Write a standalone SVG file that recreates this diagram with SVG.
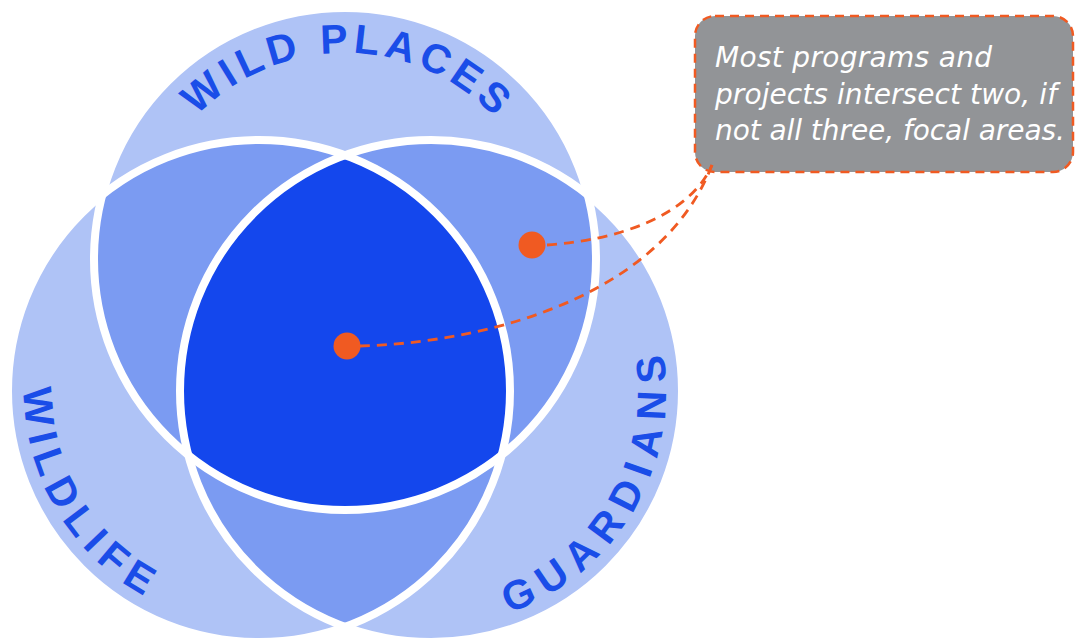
<svg xmlns="http://www.w3.org/2000/svg" width="1075" height="639" viewBox="0 0 1075 639">
<style>
.light{fill:#afc3f6}
.mid{fill:#7b9bf2}
.dark{fill:#1447ed}
.ring{fill:none;stroke:#ffffff;stroke-width:8}
.label{font-family:"Liberation Sans",Arial,sans-serif;font-weight:700;font-size:41px;fill:#1a4de8}
.note{font-family:"DejaVu Sans","Open Sans",sans-serif;font-style:italic;font-size:28px;fill:#ffffff}
.lead{fill:none;stroke:#f05a22;stroke-width:2.8;stroke-dasharray:10 7}
.dot{fill:#f05a22}
.box{fill:#929497;stroke:#f05a22;stroke-width:2.5;stroke-dasharray:9 6}
</style>
<defs>
<clipPath id="clipT"><circle cx="345" cy="259" r="251"/></clipPath>
<clipPath id="clipL"><circle cx="259" cy="391" r="251"/></clipPath>
<clipPath id="clipR"><circle cx="431" cy="391" r="251"/></clipPath>
<path id="arcTop" d="M 139 259 A 206 206 0 0 1 551 259"/>
<path id="arcLeft" d="M 107.2 211.6 A 235 235 0 0 0 340.5 611.4"/>
<path id="arcRight" d="M 349.1 611.3 A 235 235 0 0 0 583.3 212"/>
</defs>
<rect width="1075" height="639" fill="#ffffff"/>
<g id="circle-wild-places">
<circle class="light" cx="345" cy="259" r="251"/>
<text class="label" letter-spacing="5"><textPath href="#arcTop" startOffset="50.5%" text-anchor="middle">WILD PLACES</textPath></text>
</g>
<g id="circle-wildlife">
<circle class="light" cx="259" cy="391" r="251"/>
<text class="label" letter-spacing="8.3"><textPath href="#arcLeft" startOffset="50.5%" text-anchor="middle">WILDLIFE</textPath></text>
</g>
<g id="circle-guardians">
<circle class="light" cx="431" cy="391" r="251"/>
<text class="label" letter-spacing="9.8"><textPath href="#arcRight" startOffset="50.5%" text-anchor="middle">GUARDIANS</textPath></text>
</g>
<g id="overlaps">
<circle class="mid" cx="345" cy="259" r="251" clip-path="url(#clipL)"/>
<circle class="mid" cx="345" cy="259" r="251" clip-path="url(#clipR)"/>
<circle class="mid" cx="259" cy="391" r="251" clip-path="url(#clipR)"/>
<g clip-path="url(#clipR)"><circle class="dark" cx="345" cy="259" r="251" clip-path="url(#clipL)"/></g>
</g>
<g id="outlines">
<circle class="ring" cx="345" cy="259" r="251"/>
<circle class="ring" cx="259" cy="391" r="251"/>
<circle class="ring" cx="431" cy="391" r="251"/>
</g>
<g id="callout">
<rect class="box" x="695" y="16" width="378" height="156" rx="20"/>
<text class="note" x="715" y="67" textLength="277" lengthAdjust="spacing">Most programs and</text>
<text class="note" x="715" y="104" textLength="342" lengthAdjust="spacing">projects intersect two, if</text>
<text class="note" x="715" y="140" textLength="350" lengthAdjust="spacing">not all three, focal areas.</text>
</g>
<g id="connectors">
<path class="lead" d="M 547 245 C 620 240, 690 215, 712 165"/>
<path class="lead" d="M 360 346 C 480 343, 660 300, 712 165"/>
</g>
<g id="dot-pair"><circle class="dot" cx="532" cy="245" r="13.5"/></g>
<g id="dot-center"><circle class="dot" cx="347" cy="346" r="13.5"/></g>
</svg>
